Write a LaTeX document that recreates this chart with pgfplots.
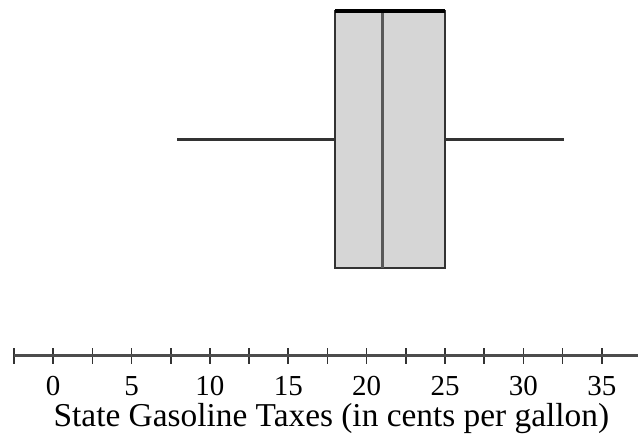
\documentclass[border=0pt]{standalone}
\usepackage{fontspec}
\setmainfont{Liberation Serif}
\usepackage{pgfplots}
\pgfplotsset{compat=1.18}
\usepgfplotslibrary{statistics}
\definecolor{boxfill}{gray}{0.84}
\definecolor{medgray}{gray}{0.35}

\begin{document}
\begin{tikzpicture}
\begin{axis}[
  x=7.845pt, y=128.5pt,
  xmin=-2.5, xmax=37.28, ymin=0.158, ymax=1.543,
  axis x line*=bottom, axis y line=none,
  ytick=\empty,
  xtick={0,5,...,35}, minor xtick={-2.5,2.5,...,32.5},
  tick align=center, major tick length=8pt, minor tick length=8pt,
  every tick/.style={black!80, line width=0.8pt},
  x axis line style={line width=1.5pt, black!70},
  xticklabel style={anchor=base, yshift=-16pt, font=\fontsize{14.5}{17}\selectfont},
  typeset ticklabels with strut=false,
  xlabel={State Gasoline Taxes (in cents per gallon)},
  xlabel style={at={(axis cs:17.75,0.158)}, anchor=base, yshift=-35.5pt,
    font=\fontsize{16.7}{20}\selectfont},
  /pgf/number format/assume math mode=true,
  clip=false,
  boxplot/whisker extend=0,
  boxplot/every median/.style={draw=medgray, line width=1.6pt},
]
% five-number summary
\addplot[draw=black!80, fill=boxfill, line width=1.1pt,
  boxplot prepared={lower whisker=7.9, lower quartile=18, median=21,
    upper quartile=25, upper whisker=32.6,
    draw direction=x, draw position=1, box extend=1}]
  coordinates {};
% heavier top edge of the box
\addplot[black, line width=1.8pt] coordinates {(18,1.5) (25,1.5)};
\end{axis}
\path ([xshift=-7pt]current axis.south west) rectangle (current axis.north east);
\end{tikzpicture}
\end{document}
